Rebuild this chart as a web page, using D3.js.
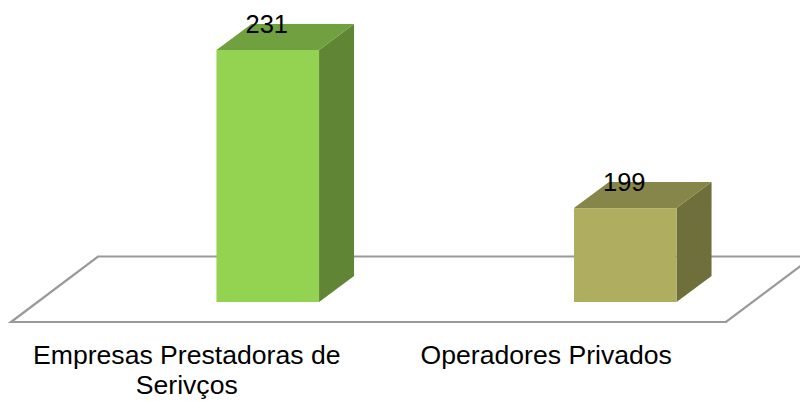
<!DOCTYPE html>
<html>
<head>
<meta charset="utf-8">
<style>
  html, body { margin: 0; padding: 0; background: #fff; }
  svg { display: block; }
  text { font-family: "Liberation Sans", Arial, sans-serif; fill: #000; }
</style>
<script src="https://cdn.jsdelivr.net/npm/d3@7"></script>
</head>
<body>
<script>
var categories = ["Empresas Prestadoras de Serivços", "Operadores Privados"];
var categoryLines = [["Empresas Prestadoras de", "Serivços"], ["Operadores Privados"]];
var values = [231, 199];
var frontColors = ["#93d351", "#afad60"];
var topColors = ["#70a03f", "#86864a"];
var sideColors = ["#5f8535", "#6f6f3b"];

var width = 800, height = 401;
var floor = { left: 11, right: 726, front: 322, back: 256.5 };
var depth = { dx: 35, dy: 26 };
var floorDx = 87;
var barShift = 78;
var barBase = 302;

var svg = d3.select("body").append("svg")
  .attr("width", width)
  .attr("height", height);

var x = d3.scaleBand()
  .domain(categories)
  .range([floor.left, floor.right])
  .paddingInner(0)
  .paddingOuter(0);

var barWidth = x.bandwidth() * 0.287;

var y = d3.scaleLinear()
  .domain([180, 231])
  .range([barBase, 50]);

// floor of the 3d chart, drawn first so the bars sit on top
svg.append("path")
  .attr("d", "M" + floor.left + "," + floor.front +
    "L" + floor.right + "," + floor.front +
    "L" + (floor.right + floorDx) + "," + floor.back +
    "L" + (floor.left + floorDx) + "," + floor.back + "Z")
  .attr("fill", "#fff")
  .attr("stroke", "#999999")
  .attr("stroke-width", 2.2);

var bars = svg.selectAll(".bar")
  .data(categories)
  .enter()
  .append("g")
  .attr("class", "bar")
  .attr("transform", function (d) {
    return "translate(" + (x(d) + x.bandwidth() / 2 + barShift - barWidth / 2) + ",0)";
  });

// side face
bars.append("path")
  .attr("fill", function (d, i) { return sideColors[i]; })
  .attr("d", function (d, i) {
    var t = y(values[i]);
    return "M" + barWidth + "," + t +
      "l" + depth.dx + "," + (-depth.dy) +
      "V" + (barBase - depth.dy) +
      "l" + (-depth.dx) + "," + depth.dy + "Z";
  });

// top face
bars.append("path")
  .attr("fill", function (d, i) { return topColors[i]; })
  .attr("d", function (d, i) {
    var t = y(values[i]);
    return "M0," + t +
      "l" + depth.dx + "," + (-depth.dy) +
      "h" + barWidth +
      "l" + (-depth.dx) + "," + depth.dy + "Z";
  });

// front face
bars.append("rect")
  .attr("x", 0)
  .attr("y", function (d, i) { return y(values[i]); })
  .attr("width", barWidth)
  .attr("height", function (d, i) { return barBase - y(values[i]); })
  .attr("fill", function (d, i) { return frontColors[i]; });

// value labels
bars.append("text")
  .attr("x", barWidth / 2 - 1)
  .attr("y", function (d, i) { return y(values[i]) - 17; })
  .attr("text-anchor", "middle")
  .attr("font-size", 25.5)
  .text(function (d, i) { return values[i]; });

// category labels
var labels = svg.selectAll(".category")
  .data(categories)
  .enter()
  .append("text")
  .attr("class", "category")
  .attr("text-anchor", "middle")
  .attr("font-size", 26.6);

labels.selectAll("tspan")
  .data(function (d, i) { return categoryLines[i]; })
  .enter()
  .append("tspan")
  .attr("x", function () { return x(this.parentNode.__data__) + x.bandwidth() / 2 - (this.parentNode.__data__ === categories[0] ? 3 : 1); })
  .attr("y", function (d, i) { return 363.5 + i * 30; })
  .text(function (d) { return d; });
</script>
</body>
</html>
